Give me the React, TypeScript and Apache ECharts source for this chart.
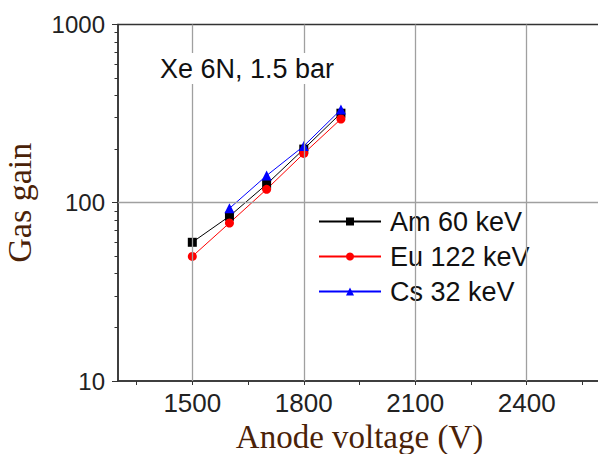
import React, { useEffect, useRef } from "react";
import * as echarts from "echarts";

const voltages = [1500, 1600, 1700, 1800, 1900];
const amGain = [60, 84, 127, 200, 318];
const euGain = [50, 77, 119, 189, 295];
const csGain = [null, 93, 142, 208, 333];
const xLabelValues = [1500, 1800, 2100, 2400];
const xTickValues = [1350, 1500, 1650, 1800, 1950, 2100, 2250, 2400, 2550];
const yMinorTicks = [20, 30, 40, 50, 60, 70, 80, 90, 200, 300, 400, 500, 600, 700, 800, 900];
const yMajorTicks = [10, 100, 1000];
const gridXValues = [1500, 1800, 2100, 2400];
const gridYValues = [100];

const SANS = "'Liberation Sans', Arial, sans-serif";
const SERIF = "'Liberation Serif', 'Times New Roman', serif";
const TITLE_COLOR = "#4a2208";

export default function App() {
  const ref = useRef<HTMLDivElement>(null);
  useEffect(() => {
    if (!ref.current) return;
    const chart = echarts.init(ref.current, undefined, { renderer: "svg" });
    const pair = (ys: (number | null)[]) => voltages.map((v, i) => [v, ys[i]]);
    chart.setOption({
      animation: false,
      backgroundColor: "#ffffff",
      grid: {
        left: 118,
        top: 24.5,
        right: -3,
        bottom: 73,
        outerBoundsMode: "none",
        containLabel: false,
        show: true,
        borderColor: "#333",
        borderWidth: 1.5,
        backgroundColor: "transparent",
      },
      xAxis: {
        type: "value",
        min: 1300,
        max: 2600,
        name: "Anode voltage (V)",
        nameLocation: "middle",
        nameGap: 36,
        nameTextStyle: { fontFamily: SERIF, fontSize: 33, color: TITLE_COLOR },
        axisLine: { show: true, lineStyle: { color: "#333", width: 1.5 } },
        axisTick: { show: true, length: 4, customValues: xTickValues, lineStyle: { color: "#333", width: 1 } },
        axisLabel: {
          customValues: xLabelValues,
          formatter: (v: number) => String(v),
          fontFamily: SANS,
          fontSize: 26,
          color: "#222",
          margin: 9,
        },
        splitLine: { show: false },
      },
      yAxis: [
        {
          type: "log",
          logBase: 10,
          min: 10,
          max: 1000,
          name: "Gas gain",
          nameLocation: "middle",
          nameGap: 82,
          nameTextStyle: { fontFamily: SERIF, fontSize: 34, color: TITLE_COLOR },
          axisLine: { show: true, lineStyle: { color: "#333", width: 1.5 } },
          axisTick: { show: true, length: 6, customValues: yMajorTicks, lineStyle: { color: "#333", width: 1 } },
          axisLabel: {
            customValues: yMajorTicks,
            formatter: (v: number) => String(Math.round(v)),
            fontFamily: SANS,
            fontSize: 24,
            color: "#222",
            margin: 13,
          },
          splitLine: { show: false },
          minorTick: { show: false },
        },
        {
          type: "log",
          logBase: 10,
          min: 10,
          max: 1000,
          position: "left",
          axisLine: { show: false },
          axisTick: { show: true, length: 3.5, customValues: yMinorTicks, lineStyle: { color: "#333", width: 1 } },
          axisLabel: { show: false },
          splitLine: { show: false },
        },
      ],
      legend: {
        orient: "vertical",
        left: 313,
        top: 204,
        padding: [4, 6, 4, 5],
        backgroundColor: "#ffffff",
        itemWidth: 62,
        itemHeight: 10,
        itemGap: 8,
        textStyle: { fontFamily: SANS, fontSize: 27, color: "#111", padding: [0, 0, 0, 4] },
        data: ["Am 60 keV", "Eu 122 keV", "Cs 32 keV"],
      },
      graphic: [
        {
          type: "text",
          z: 100,
          x: 156,
          y: 53,
          style: {
            text: "Xe 6N, 1.5 bar",
            font: `27px ${SANS}`,
            fill: "#111",
            backgroundColor: "#ffffff",
            padding: [2, 4],
          },
        },
      ],
      series: [
        {
          name: "grid",
          type: "line",
          z: 1,
          data: [],
          silent: true,
          markLine: {
            silent: true,
            symbol: ["none", "none"],
            label: { show: false },
            lineStyle: { color: "#a0a0a0", width: 1.3, type: "solid" },
            data: [
              ...gridXValues.map((v) => ({ xAxis: v })),
              ...gridYValues.map((v) => ({ yAxis: v })),
            ],
          },
        },
        {
          name: "Am 60 keV",
          type: "line",
          data: pair(amGain),
          symbol: "rect",
          symbolSize: 9,
          itemStyle: { color: "#000000" },
          lineStyle: { color: "#000000", width: 1 },
        },
        {
          name: "Eu 122 keV",
          type: "line",
          data: pair(euGain),
          symbol: "circle",
          symbolSize: 9,
          itemStyle: { color: "#ff0000" },
          lineStyle: { color: "#ff0000", width: 1 },
        },
        {
          name: "Cs 32 keV",
          type: "line",
          data: pair(csGain).filter((d) => d[1] !== null),
          symbol: "triangle",
          symbolSize: 10,
          itemStyle: { color: "#0000ff" },
          lineStyle: { color: "#0000ff", width: 1 },
        },
      ],
    });
    return () => chart.dispose();
  }, []);
  return (
    <div
      ref={ref}
      style={{ position: "fixed", left: 0, top: 0, width: 598, height: 454, background: "#fff" }}
    />
  );
}
